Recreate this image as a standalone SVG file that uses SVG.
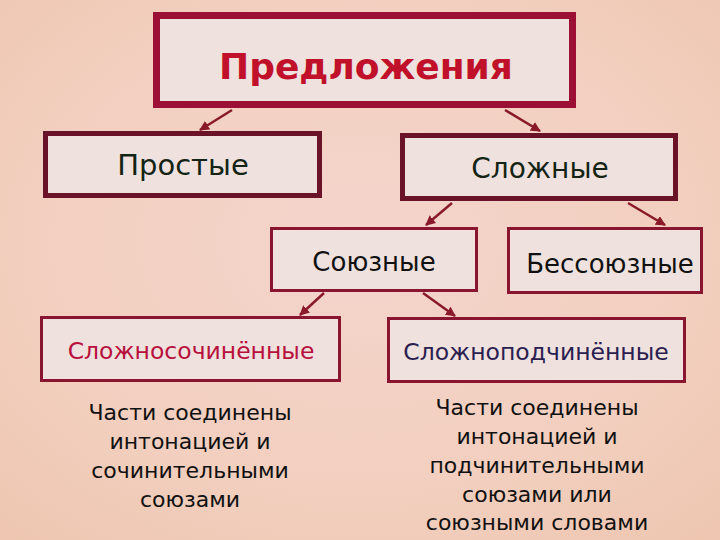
<svg xmlns="http://www.w3.org/2000/svg" width="720" height="540" viewBox="0 0 720 540">
<defs>
<radialGradient id="bg" cx="0.5" cy="0.45" r="0.75">
<stop offset="0" stop-color="#f4d4cc"/>
<stop offset="0.6" stop-color="#f2cfbf"/>
<stop offset="1" stop-color="#eec6b0"/>
</radialGradient>
<marker id="ah" viewBox="0 0 10 10" refX="9" refY="5" markerWidth="4" markerHeight="4" orient="auto">
<path d="M0,0 L10,5 L0,10 z" fill="#8a1a2a"/>
</marker>
<style>
.box{fill:#efe1de;}
.t{font-family:"DejaVu Sans","Noto Sans",sans-serif;text-anchor:middle;}
.desc{font-family:"DejaVu Sans","Noto Sans",sans-serif;text-anchor:middle;font-size:22px;fill:#111;}
.con{stroke:#8a1a2a;stroke-width:2.5;fill:none;marker-end:url(#ah);}
</style>
</defs>
<rect width="720" height="540" fill="url(#bg)"/>
<g id="connectors">
<line class="con" x1="232" y1="110" x2="200" y2="130"/>
<line class="con" x1="505" y1="110" x2="540" y2="131"/>
<line class="con" x1="452" y1="203" x2="426" y2="225"/>
<line class="con" x1="628" y1="203" x2="665" y2="225"/>
<line class="con" x1="324" y1="293" x2="300" y2="315"/>
<line class="con" x1="423" y1="293" x2="455" y2="316"/>
</g>
<g id="n-predlozheniya">
<rect class="box" x="156.5" y="15.5" width="416" height="89" stroke="#9b1034" stroke-width="7"/>
<text class="t" x="366" y="79" font-size="36" font-weight="bold" fill="#c0102a">Предложения</text>
</g>
<g id="n-prostye">
<rect class="box" x="45.5" y="133.5" width="274" height="62" stroke="#6a1228" stroke-width="5"/>
<text class="t" x="183" y="175" font-size="29" fill="#142414">Простые</text>
</g>
<g id="n-slozhnye">
<rect class="box" x="402.5" y="135.5" width="273" height="63" stroke="#6a1228" stroke-width="5"/>
<text class="t" x="540" y="178" font-size="28" fill="#142414">Сложные</text>
</g>
<g id="n-soyuznye">
<rect class="box" x="271.5" y="228.5" width="205" height="62" stroke="#8a1530" stroke-width="3"/>
<text class="t" x="374" y="271" font-size="26" fill="#111">Союзные</text>
</g>
<g id="n-bessoyuznye">
<rect class="box" x="508.5" y="228.5" width="193" height="64" stroke="#8a1530" stroke-width="3"/>
<text class="t" x="610" y="273" font-size="26" fill="#111">Бессоюзные</text>
</g>
<g id="n-slozhnosochinennye">
<rect class="box" x="41.5" y="317.5" width="298" height="63" stroke="#8a1530" stroke-width="3"/>
<text class="t" x="191" y="359" font-size="23.5" fill="#b8103c">Сложносочинённые</text>
</g>
<g id="n-slozhnopodchinennye">
<rect class="box" x="388.5" y="318.5" width="296" height="63" stroke="#8a1530" stroke-width="3"/>
<text class="t" x="536" y="360" font-size="23.5" fill="#2a2050">Сложноподчинённые</text>
</g>
<g id="n-desc-left">
<text class="desc" x="190" y="420">Части соединены</text>
<text class="desc" x="190" y="449">интонацией и</text>
<text class="desc" x="190" y="478">сочинительными</text>
<text class="desc" x="190" y="507">союзами</text>
</g>
<g id="n-desc-right">
<text class="desc" x="537" y="415">Части соединены</text>
<text class="desc" x="537" y="444">интонацией и</text>
<text class="desc" x="537" y="473">подчинительными</text>
<text class="desc" x="537" y="502">союзами или</text>
<text class="desc" x="537" y="530">союзными словами</text>
</g>
</svg>
